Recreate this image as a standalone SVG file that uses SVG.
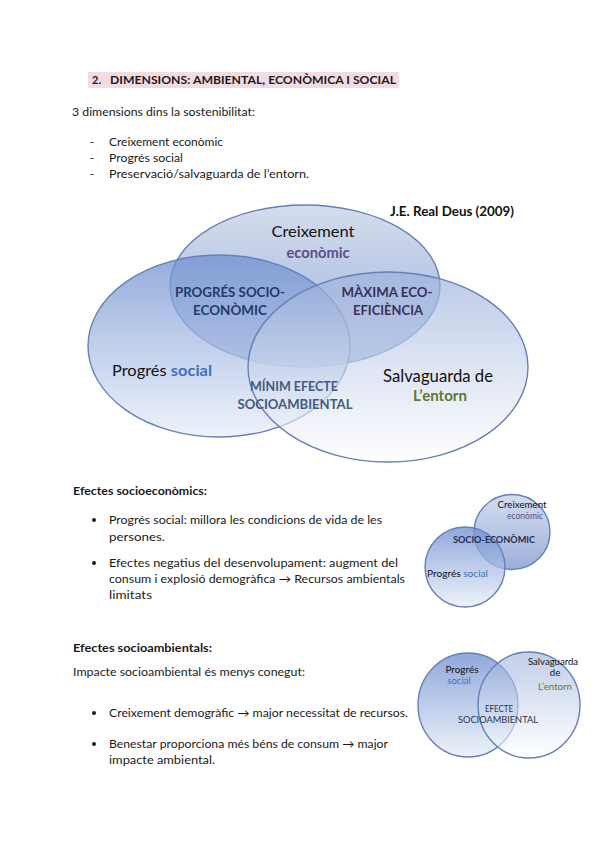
<svg xmlns="http://www.w3.org/2000/svg" width="600" height="848" viewBox="0 0 600 848">
<defs>
<linearGradient id="gTop" x1="0" y1="0" x2="0" y2="1"><stop offset="0" stop-color="#c3cfe6"/><stop offset="1" stop-color="#6f8ecb"/></linearGradient>
<linearGradient id="gLeft" x1="0" y1="0" x2="0" y2="1"><stop offset="0" stop-color="#6a8bcf"/><stop offset="1" stop-color="#e8eef8"/></linearGradient>
<linearGradient id="gRight" x1="0" y1="0" x2="0" y2="1"><stop offset="0" stop-color="#98aedb"/><stop offset="1" stop-color="#ffffff"/></linearGradient>
<style>
.t{font-family:Lato,"Liberation Sans",sans-serif;fill:#1a1a1a}
.b{font-weight:bold}
.body{font-size:11px}
.ell{stroke:#6580b6;stroke-width:1.4}
.vt{font-family:Lato,"Liberation Sans",sans-serif}
.cap{font-weight:bold;font-size:12.5px}
</style>
</defs>
<rect width="600" height="848" fill="#ffffff"/>

<g id="header">
<rect x="88" y="72" width="311" height="16" fill="#f3dbe4"/>
<text class="t b" x="92" y="84" font-size="11">2.</text>
<text class="t b" x="110" y="84" font-size="11" textLength="286" lengthAdjust="spacingAndGlyphs">DIMENSIONS: AMBIENTAL, ECONÒMICA I SOCIAL</text>
</g>

<g id="intro">
<text class="t body" x="72" y="116" textLength="183" lengthAdjust="spacingAndGlyphs">3 dimensions dins la sostenibilitat:</text>
<text class="t body" x="90" y="146">-</text>
<text class="t body" x="109" y="146" textLength="114" lengthAdjust="spacingAndGlyphs">Creixement econòmic</text>
<text class="t body" x="90" y="162">-</text>
<text class="t body" x="109" y="162" textLength="74" lengthAdjust="spacingAndGlyphs">Progrés social</text>
<text class="t body" x="90" y="178">-</text>
<text class="t body" x="109" y="178" textLength="200" lengthAdjust="spacingAndGlyphs">Preservació/salvaguarda de l’entorn.</text>
</g>

<g id="venn-main">
<text class="vt b" x="390" y="216" font-size="14" fill="#111" textLength="124" lengthAdjust="spacingAndGlyphs">J.E. Real Deus (2009)</text>
<g id="ell-creixement"><ellipse class="ell" cx="305" cy="286" rx="135" ry="81" fill="url(#gTop)" fill-opacity="0.7"/></g>
<g id="ell-social"><ellipse class="ell" cx="219" cy="346" rx="131" ry="91" fill="url(#gLeft)" fill-opacity="0.72"/></g>
<g id="ell-entorn"><ellipse class="ell" cx="388" cy="367" rx="140" ry="95" fill="url(#gRight)" fill-opacity="0.65" stroke="#5671a6"/></g>
<text class="vt" x="313" y="237" font-size="16" fill="#111" text-anchor="middle" textLength="83" lengthAdjust="spacingAndGlyphs">Creixement</text>
<text class="vt b" x="318" y="258" font-size="16" fill="#5f4b8b" text-anchor="middle" textLength="63" lengthAdjust="spacingAndGlyphs">econòmic</text>
<text class="vt cap" x="230" y="297" fill="#1f3a6b" text-anchor="middle" textLength="110" lengthAdjust="spacingAndGlyphs">PROGRÉS SOCIO-</text>
<text class="vt cap" x="230" y="315" fill="#1f3a6b" text-anchor="middle" textLength="74" lengthAdjust="spacingAndGlyphs">ECONÒMIC</text>
<text class="vt cap" x="387" y="297" fill="#3b2f5e" text-anchor="middle" textLength="91" lengthAdjust="spacingAndGlyphs">MÀXIMA ECO-</text>
<text class="vt cap" x="388" y="315" fill="#3b2f5e" text-anchor="middle" textLength="70" lengthAdjust="spacingAndGlyphs">EFICIÈNCIA</text>
<text class="vt" x="112" y="376" font-size="16" fill="#111" textLength="100" lengthAdjust="spacingAndGlyphs">Progrés <tspan class="b" fill="#3a70c0">social</tspan></text>
<text class="vt cap" x="294" y="391" fill="#435a80" text-anchor="middle" font-weight="normal" textLength="88" lengthAdjust="spacingAndGlyphs">MÍNIM EFECTE</text>
<text class="vt cap" x="295" y="409" fill="#435a80" text-anchor="middle" font-weight="normal" textLength="115" lengthAdjust="spacingAndGlyphs">SOCIOAMBIENTAL</text>
<text class="vt" x="438" y="382" font-size="17" fill="#111" text-anchor="middle" textLength="110" lengthAdjust="spacingAndGlyphs">Salvaguarda de</text>
<text class="vt b" x="440" y="401" font-size="16" fill="#5c7a2e" text-anchor="middle" textLength="54" lengthAdjust="spacingAndGlyphs">L’entorn</text>
</g>

<g id="sec-socioeconomics">
<text class="t b body" x="73" y="495" textLength="134" lengthAdjust="spacingAndGlyphs">Efectes socioeconòmics:</text>
<circle cx="94" cy="520" r="2" fill="#1a1a1a"/>
<text class="t body" x="109" y="524" textLength="273" lengthAdjust="spacingAndGlyphs">Progrés social: millora les condicions de vida de les</text>
<text class="t body" x="109" y="541" textLength="56" lengthAdjust="spacingAndGlyphs">persones.</text>
<circle cx="94" cy="563" r="2" fill="#1a1a1a"/>
<text class="t body" x="109" y="567" textLength="289" lengthAdjust="spacingAndGlyphs">Efectes negatius del desenvolupament: augment del</text>
<text class="t body" x="109" y="583" textLength="296" lengthAdjust="spacingAndGlyphs">consum i explosió demogràfica → Recursos ambientals</text>
<text class="t body" x="109" y="599" textLength="43" lengthAdjust="spacingAndGlyphs">limitats</text>
</g>

<g id="venn-socioeconomic">
<g id="c-creixement"><ellipse class="ell" cx="512" cy="532" rx="38" ry="37.5" fill="url(#gTop)" fill-opacity="0.7"/></g>
<g id="c-social"><circle class="ell" cx="465" cy="567" r="40" fill="url(#gLeft)" fill-opacity="0.75"/></g>
<text class="vt" x="522" y="508" font-size="9.5" fill="#111" text-anchor="middle" textLength="49" lengthAdjust="spacingAndGlyphs">Creixement</text>
<text class="vt" x="525" y="519" font-size="9" fill="#5f4b8b" text-anchor="middle" textLength="36" lengthAdjust="spacingAndGlyphs">econòmic</text>
<text class="vt b" x="494" y="543" font-size="9" fill="#1f2f55" text-anchor="middle" textLength="82" lengthAdjust="spacingAndGlyphs">SOCIO-ECONÒMIC</text>
<text class="vt" x="427" y="577" font-size="9.5" fill="#111" textLength="61" lengthAdjust="spacingAndGlyphs">Progrés <tspan fill="#3a70c0">social</tspan></text>
</g>

<g id="sec-socioambientals">
<text class="t b body" x="73" y="652" textLength="139" lengthAdjust="spacingAndGlyphs">Efectes socioambientals:</text>
<text class="t body" x="73" y="676" textLength="232" lengthAdjust="spacingAndGlyphs">Impacte socioambiental és menys conegut:</text>
<circle cx="94" cy="713" r="2" fill="#1a1a1a"/>
<text class="t body" x="109" y="717" textLength="299" lengthAdjust="spacingAndGlyphs">Creixement demogràfic → major necessitat de recursos.</text>
<circle cx="94" cy="744" r="2" fill="#1a1a1a"/>
<text class="t body" x="109" y="748" textLength="279" lengthAdjust="spacingAndGlyphs">Benestar proporciona més béns de consum → major</text>
<text class="t body" x="109" y="764" textLength="106" lengthAdjust="spacingAndGlyphs">impacte ambiental.</text>
</g>

<g id="venn-socioambiental">
<g id="c2-social"><ellipse class="ell" cx="468" cy="705" rx="50" ry="52" fill="url(#gLeft)" fill-opacity="0.75"/></g>
<g id="c2-entorn"><ellipse class="ell" cx="529" cy="705" rx="51" ry="53" fill="url(#gRight)" fill-opacity="0.6"/></g>
<text class="vt" x="462" y="673" font-size="10" fill="#111" text-anchor="middle">Progrés</text>
<text class="vt" x="459" y="684" font-size="9.5" fill="#3a70c0" text-anchor="middle">social</text>
<text class="vt" x="553" y="665" font-size="9.5" fill="#111" text-anchor="middle" textLength="50" lengthAdjust="spacingAndGlyphs">Salvaguarda</text>
<text class="vt" x="555" y="676" font-size="9.5" fill="#111" text-anchor="middle">de</text>
<text class="vt" x="555" y="690" font-size="9.5" fill="#5c7a2e" text-anchor="middle" textLength="34" lengthAdjust="spacingAndGlyphs">L’entorn</text>
<text class="vt" x="499" y="712" font-size="8.5" fill="#2a3550" text-anchor="middle" textLength="28" lengthAdjust="spacingAndGlyphs">EFECTE</text>
<text class="vt" x="498" y="723" font-size="8.5" fill="#2a3550" text-anchor="middle" textLength="80" lengthAdjust="spacingAndGlyphs">SOCIOAMBIENTAL</text>
</g>

<g id="connectors"/>
</svg>
